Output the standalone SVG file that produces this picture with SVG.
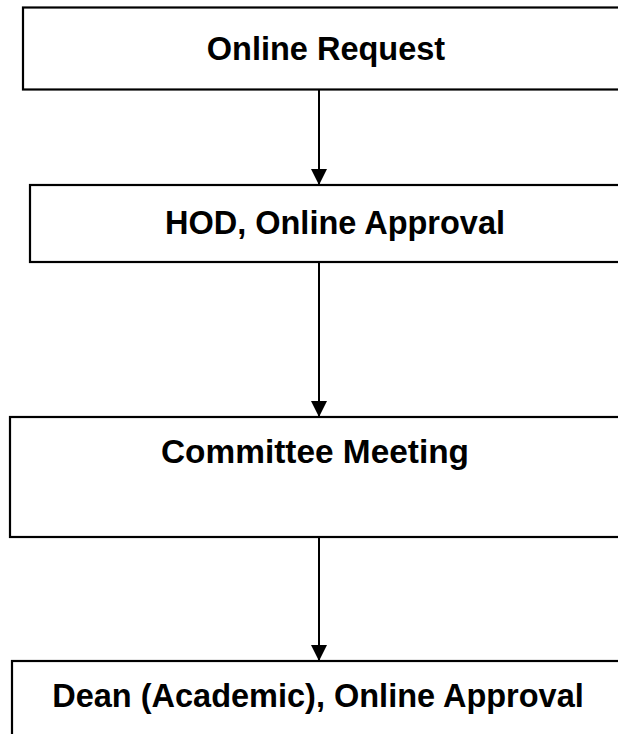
<svg xmlns="http://www.w3.org/2000/svg" width="618" height="734" viewBox="0 0 618 734">
<style>
.box{fill:#fff;stroke:#000;stroke-width:2.2}
.lbl{font-family:"Liberation Sans",Arial,sans-serif;font-weight:bold;font-size:32.5px;fill:#000;text-anchor:middle}
.edge{stroke:#000;stroke-width:2;fill:none;marker-end:url(#ah)}
</style>
<defs>
<marker id="ah" viewBox="0 0 16 16" refX="16" refY="8" markerWidth="16" markerHeight="16" markerUnits="userSpaceOnUse" orient="auto">
<path d="M0,0 L16,8 L0,16 Z" fill="#000"/>
</marker>
</defs>
<rect width="618" height="734" fill="#fff"/>
<g id="connectors">
<line class="edge" x1="319" y1="90" x2="319" y2="185"/>
<line class="edge" x1="319" y1="262" x2="319" y2="417"/>
<line class="edge" x1="319" y1="537" x2="319" y2="661"/>
</g>
<g id="n1">
<rect class="box" x="23" y="7.5" width="640" height="82"/>
<text class="lbl" x="326" y="60">Online Request</text>
</g>
<g id="n2">
<rect class="box" x="30" y="185" width="640" height="77"/>
<text class="lbl" x="335" y="234">HOD, Online Approval</text>
</g>
<g id="n3">
<rect class="box" x="10" y="417" width="640" height="120"/>
<text class="lbl" x="315" y="463" textLength="308" lengthAdjust="spacingAndGlyphs">Committee Meeting</text>
</g>
<g id="n4">
<rect class="box" x="12" y="661" width="640" height="120"/>
<text class="lbl" x="318" y="707">Dean (Academic), Online Approval</text>
</g>
</svg>
